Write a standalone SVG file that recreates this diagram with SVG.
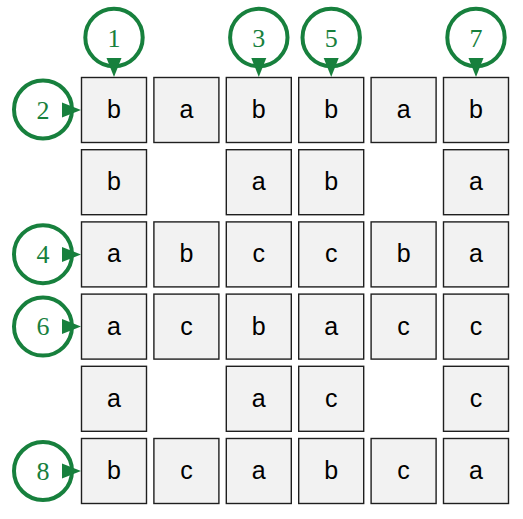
<svg xmlns="http://www.w3.org/2000/svg" width="523" height="519" viewBox="0 0 523 519">
<style>
.cell rect{fill:#f2f2f2;stroke:#1f1f1f;stroke-width:1.4}
.cell text{font-family:"Liberation Sans",Arial,sans-serif;font-size:25px;fill:#000;text-anchor:middle}
.ring{fill:none;stroke:#17803d;stroke-width:4}
.head{fill:#17803d;stroke:none}
.num{font-family:"Liberation Serif","DejaVu Serif",serif;font-size:26px;fill:#17803d;text-anchor:middle}
</style>
<rect width="523" height="519" fill="#fff"/>
<g id="cells">
<g id="r1c1" class="cell"><rect x="81.5" y="77.5" width="65" height="65"/><text x="114" y="118">b</text></g>
<g id="r1c2" class="cell"><rect x="153.9" y="77.5" width="65" height="65"/><text x="186.4" y="118">a</text></g>
<g id="r1c3" class="cell"><rect x="226.3" y="77.5" width="65" height="65"/><text x="258.8" y="118">b</text></g>
<g id="r1c4" class="cell"><rect x="298.7" y="77.5" width="65" height="65"/><text x="331.2" y="118">b</text></g>
<g id="r1c5" class="cell"><rect x="371.1" y="77.5" width="65" height="65"/><text x="403.6" y="118">a</text></g>
<g id="r1c6" class="cell"><rect x="443.5" y="77.5" width="65" height="65"/><text x="476" y="118">b</text></g>

<g id="r2c1" class="cell"><rect x="81.5" y="149.7" width="65" height="65"/><text x="114" y="190.2">b</text></g>
<g id="r2c3" class="cell"><rect x="226.3" y="149.7" width="65" height="65"/><text x="258.8" y="190.2">a</text></g>
<g id="r2c4" class="cell"><rect x="298.7" y="149.7" width="65" height="65"/><text x="331.2" y="190.2">b</text></g>
<g id="r2c6" class="cell"><rect x="443.5" y="149.7" width="65" height="65"/><text x="476" y="190.2">a</text></g>

<g id="r3c1" class="cell"><rect x="81.5" y="221.9" width="65" height="65"/><text x="114" y="262.4">a</text></g>
<g id="r3c2" class="cell"><rect x="153.9" y="221.9" width="65" height="65"/><text x="186.4" y="262.4">b</text></g>
<g id="r3c3" class="cell"><rect x="226.3" y="221.9" width="65" height="65"/><text x="258.8" y="262.4">c</text></g>
<g id="r3c4" class="cell"><rect x="298.7" y="221.9" width="65" height="65"/><text x="331.2" y="262.4">c</text></g>
<g id="r3c5" class="cell"><rect x="371.1" y="221.9" width="65" height="65"/><text x="403.6" y="262.4">b</text></g>
<g id="r3c6" class="cell"><rect x="443.5" y="221.9" width="65" height="65"/><text x="476" y="262.4">a</text></g>

<g id="r4c1" class="cell"><rect x="81.5" y="294.1" width="65" height="65"/><text x="114" y="334.6">a</text></g>
<g id="r4c2" class="cell"><rect x="153.9" y="294.1" width="65" height="65"/><text x="186.4" y="334.6">c</text></g>
<g id="r4c3" class="cell"><rect x="226.3" y="294.1" width="65" height="65"/><text x="258.8" y="334.6">b</text></g>
<g id="r4c4" class="cell"><rect x="298.7" y="294.1" width="65" height="65"/><text x="331.2" y="334.6">a</text></g>
<g id="r4c5" class="cell"><rect x="371.1" y="294.1" width="65" height="65"/><text x="403.6" y="334.6">c</text></g>
<g id="r4c6" class="cell"><rect x="443.5" y="294.1" width="65" height="65"/><text x="476" y="334.6">c</text></g>

<g id="r5c1" class="cell"><rect x="81.5" y="366.3" width="65" height="65"/><text x="114" y="406.8">a</text></g>
<g id="r5c3" class="cell"><rect x="226.3" y="366.3" width="65" height="65"/><text x="258.8" y="406.8">a</text></g>
<g id="r5c4" class="cell"><rect x="298.7" y="366.3" width="65" height="65"/><text x="331.2" y="406.8">c</text></g>
<g id="r5c6" class="cell"><rect x="443.5" y="366.3" width="65" height="65"/><text x="476" y="406.8">c</text></g>

<g id="r6c1" class="cell"><rect x="81.5" y="438.5" width="65" height="65"/><text x="114" y="479">b</text></g>
<g id="r6c2" class="cell"><rect x="153.9" y="438.5" width="65" height="65"/><text x="186.4" y="479">c</text></g>
<g id="r6c3" class="cell"><rect x="226.3" y="438.5" width="65" height="65"/><text x="258.8" y="479">a</text></g>
<g id="r6c4" class="cell"><rect x="298.7" y="438.5" width="65" height="65"/><text x="331.2" y="479">b</text></g>
<g id="r6c5" class="cell"><rect x="371.1" y="438.5" width="65" height="65"/><text x="403.6" y="479">c</text></g>
<g id="r6c6" class="cell"><rect x="443.5" y="438.5" width="65" height="65"/><text x="476" y="479">a</text></g>
</g>

<g id="loops">
<g id="loop1"><circle class="ring" cx="114" cy="37.5" r="28.7"/><path class="head" d="M106.5,58 L121.5,58 L114,77 Z"/><text class="num" x="114" y="46.5">1</text></g>
<g id="loop3"><circle class="ring" cx="258.8" cy="37.5" r="28.7"/><path class="head" d="M251.3,58 L266.3,58 L258.8,77 Z"/><text class="num" x="258.8" y="46.5">3</text></g>
<g id="loop5"><circle class="ring" cx="331.2" cy="37.5" r="28.7"/><path class="head" d="M323.7,58 L338.7,58 L331.2,77 Z"/><text class="num" x="331.2" y="46.5">5</text></g>
<g id="loop7"><circle class="ring" cx="476" cy="37.5" r="28.7"/><path class="head" d="M468.5,58 L483.5,58 L476,77 Z"/><text class="num" x="476" y="46.5">7</text></g>
<g id="loop2"><circle class="ring" cx="43" cy="109.5" r="29"/><path class="head" d="M62,102.5 L62,117.5 L81,110 Z"/><text class="num" x="43" y="118.5">2</text></g>
<g id="loop4"><circle class="ring" cx="43" cy="254.2" r="29"/><path class="head" d="M62,246.9 L62,261.9 L81,254.4 Z"/><text class="num" x="43" y="263">4</text></g>
<g id="loop6"><circle class="ring" cx="43" cy="326.6" r="29"/><path class="head" d="M62,319.1 L62,334.1 L81,326.6 Z"/><text class="num" x="43" y="335.4">6</text></g>
<g id="loop8"><circle class="ring" cx="43" cy="471" r="29"/><path class="head" d="M62,463.5 L62,478.5 L81,471 Z"/><text class="num" x="43" y="479.8">8</text></g>
</g>
</svg>
